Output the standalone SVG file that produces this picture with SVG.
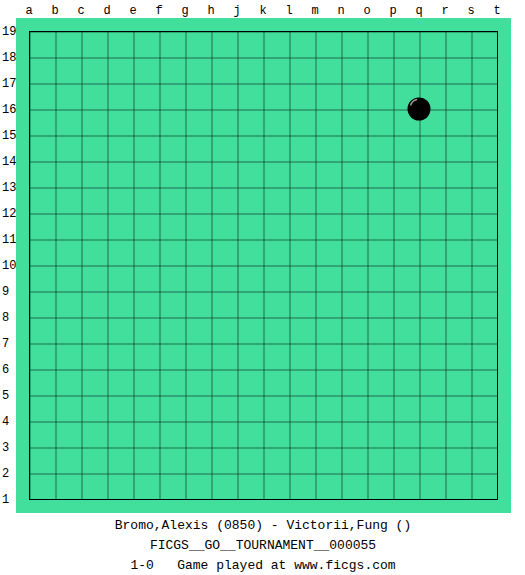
<svg xmlns="http://www.w3.org/2000/svg" width="525" height="575" viewBox="0 0 525 575">
  <style>
    .lbl { font-family: "Liberation Mono", "DejaVu Sans Mono", monospace; font-size: 12px; fill: #000; }
    .cap { font-family: "Liberation Mono", "DejaVu Sans Mono", monospace; font-size: 13px; fill: #000; text-anchor: middle; white-space: pre; }
  </style>
  <defs>
    <pattern id="cells" x="29.5" y="31.5" width="26" height="26" patternUnits="userSpaceOnUse">
      <path d="M0 0 H26 M0 0 V26" stroke="#000" stroke-width="1" fill="none"/>
    </pattern>
  </defs>
  <rect width="525" height="575" fill="#fff"/>
  <g id="board">
    <rect x="16" y="18" width="495" height="495" fill="#42DE9C"/>
    <rect x="29.5" y="31.5" width="468" height="468" fill="url(#cells)" stroke="#000" stroke-width="1"/>
  </g>
  <g id="col-labels" class="lbl" text-anchor="middle">
    <text x="29" y="14">a</text><text x="55" y="14">b</text><text x="81" y="14">c</text><text x="107" y="14">d</text><text x="133" y="14">e</text><text x="159" y="14">f</text><text x="185" y="14">g</text><text x="211" y="14">h</text><text x="237" y="14">j</text><text x="263" y="14">k</text><text x="289" y="14">l</text><text x="315" y="14">m</text><text x="341" y="14">n</text><text x="367" y="14">o</text><text x="393" y="14">p</text><text x="419" y="14">q</text><text x="445" y="14">r</text><text x="471" y="14">s</text><text x="497" y="14">t</text>
  </g>
  <g id="row-labels" class="lbl">
    <text x="2" y="35">19</text><text x="2" y="61">18</text><text x="2" y="87">17</text><text x="2" y="113">16</text><text x="2" y="139">15</text><text x="2" y="165">14</text><text x="2" y="191">13</text><text x="2" y="217">12</text><text x="2" y="243">11</text><text x="2" y="269">10</text><text x="2" y="295">9</text><text x="2" y="321">8</text><text x="2" y="347">7</text><text x="2" y="373">6</text><text x="2" y="399">5</text><text x="2" y="425">4</text><text x="2" y="451">3</text><text x="2" y="477">2</text><text x="2" y="503">1</text>
  </g>
  <g id="stone-q16">
    <circle cx="419" cy="109" r="11.5" fill="#000"/>
    <path d="M410.5 105.5 Q412 100.5 417 99.5" stroke="#9a9a9a" stroke-width="1.5" fill="none"/>
  </g>
  <g id="caption">
    <text class="cap" x="263" y="529">Bromo,Alexis (0850) - Victorii,Fung ()</text>
    <text class="cap" x="263" y="549">FICGS__GO__TOURNAMENT__000055</text>
    <text class="cap" x="263" y="569">1-0   Game played at www.ficgs.com</text>
  </g>
</svg>
